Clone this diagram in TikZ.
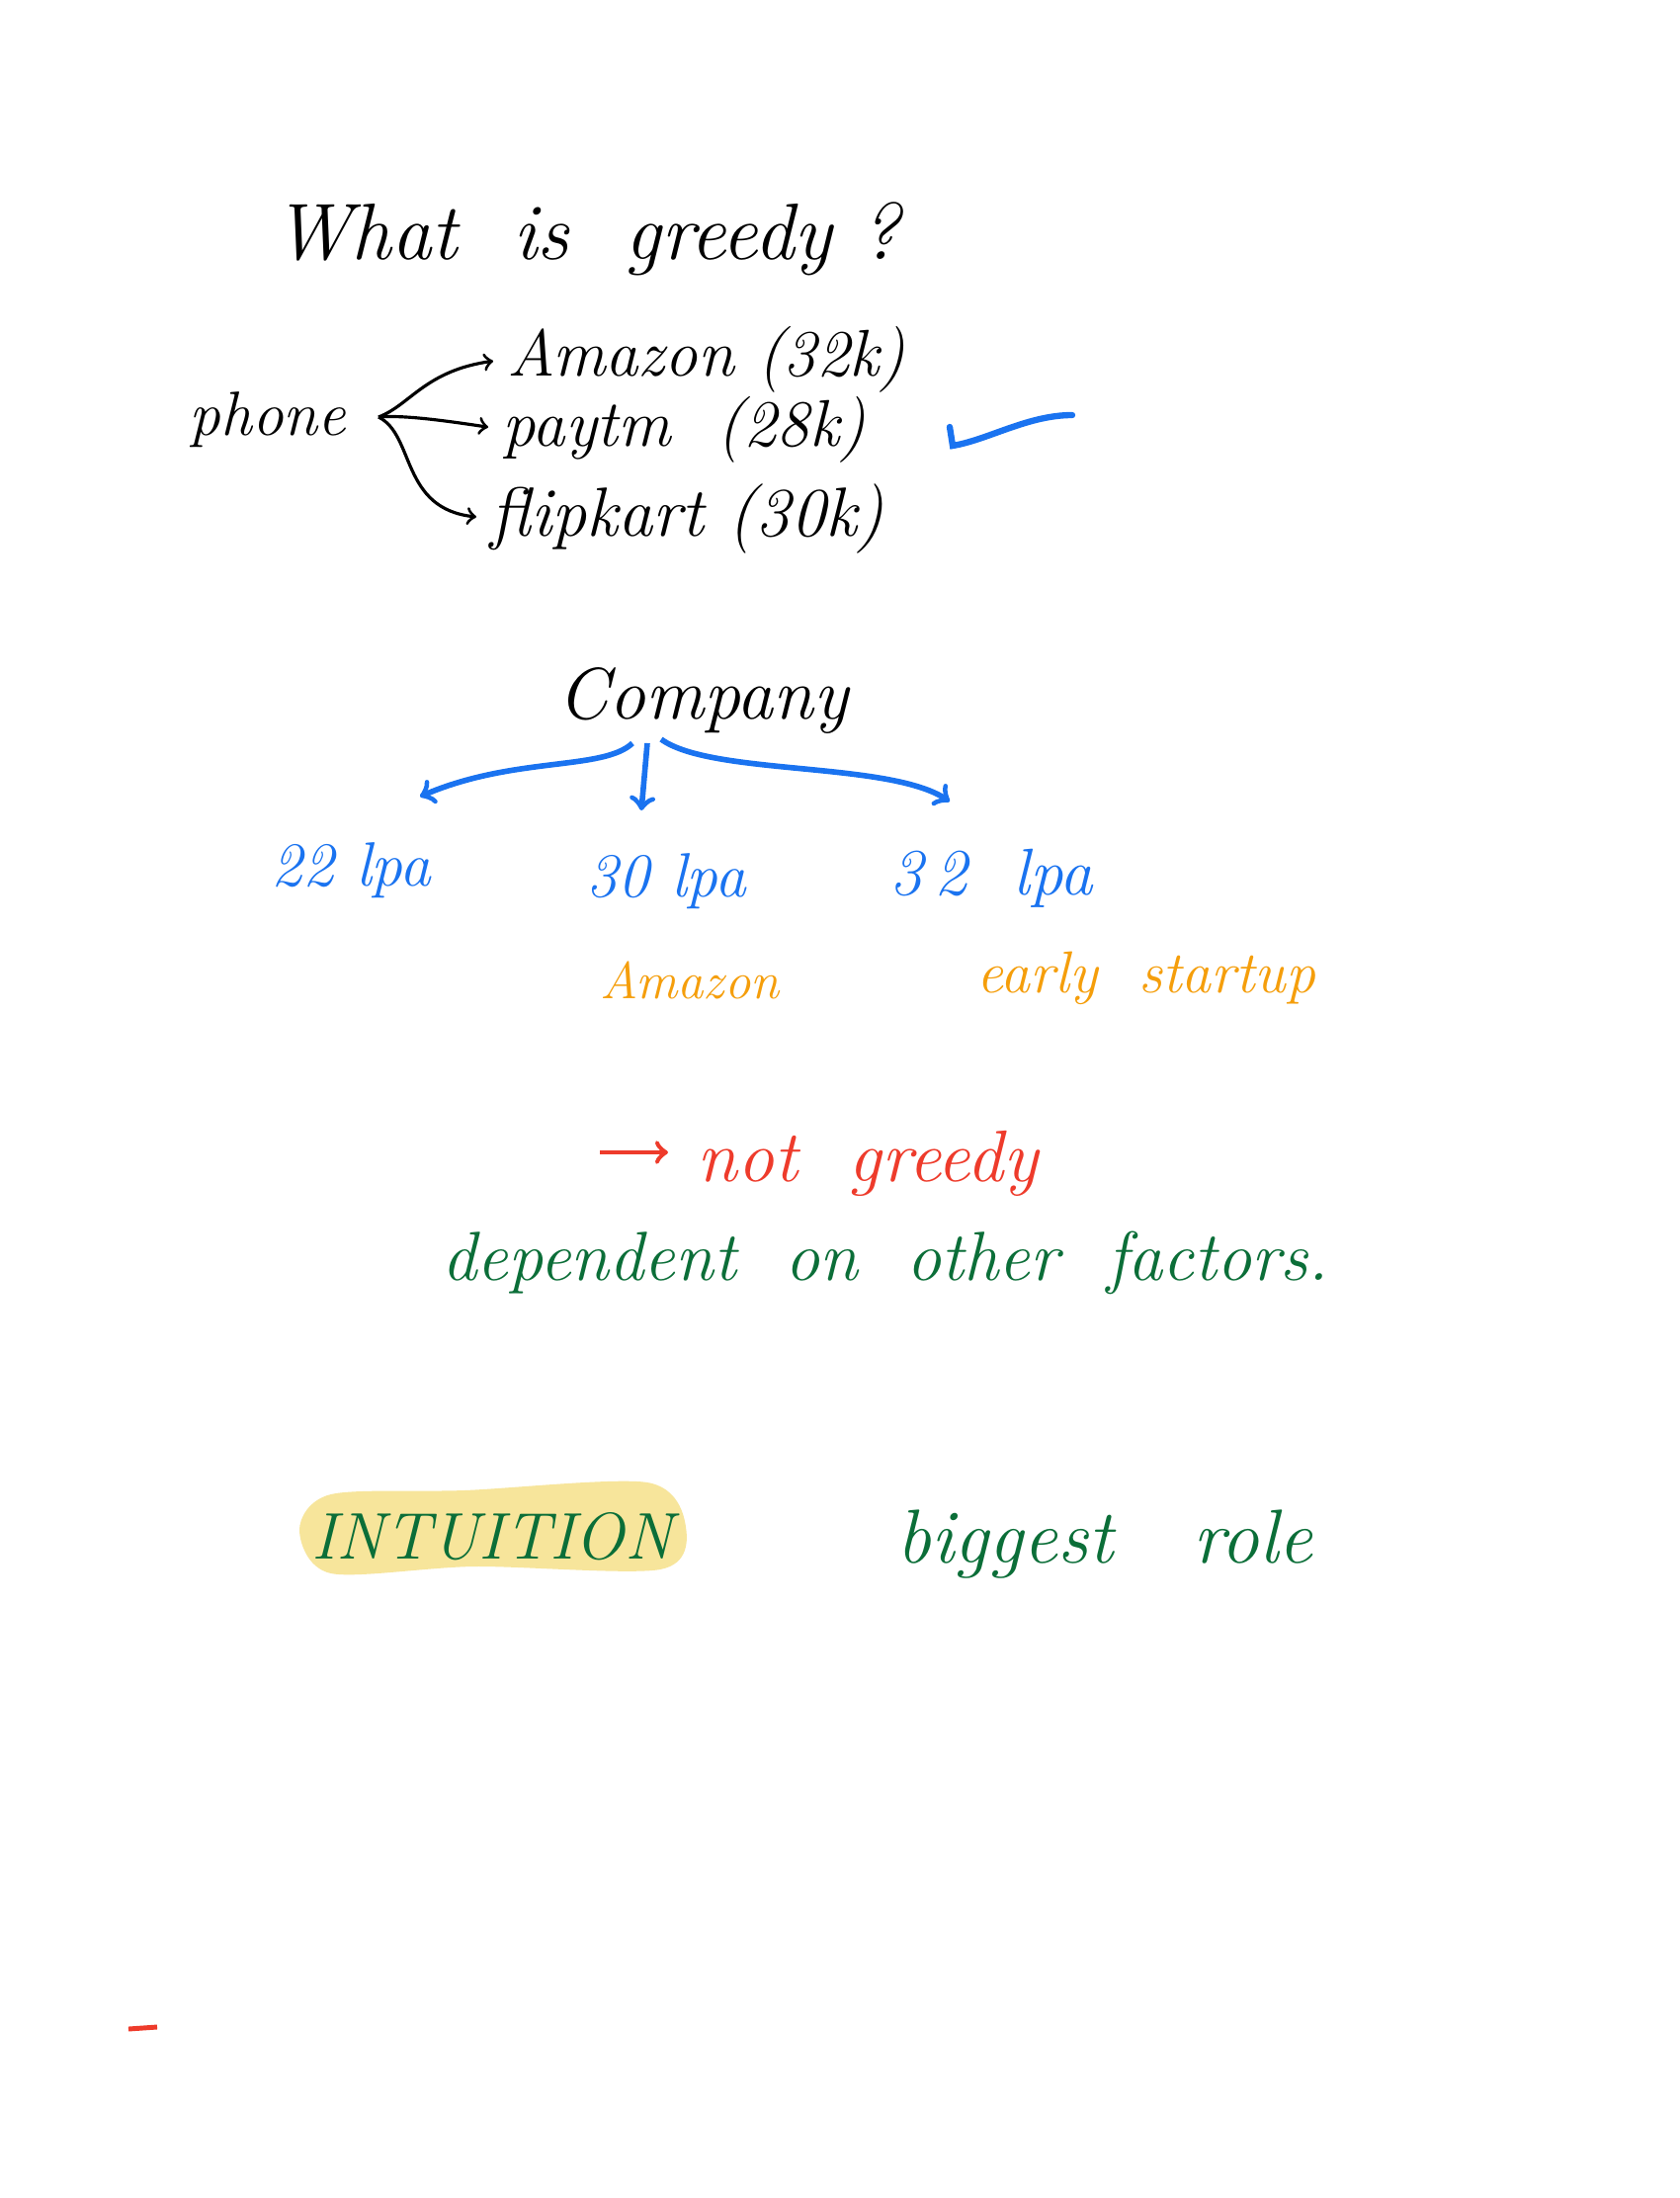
\documentclass[tikz,border=0pt]{standalone}
\usepackage{tikz}
\usetikzlibrary{arrows}
\usetikzlibrary{positioning}
\definecolor{penblue}{HTML}{1A73F0}
\definecolor{penorange}{HTML}{F59E0B}
\definecolor{penred}{HTML}{EE3B2B}
\definecolor{pengreen}{HTML}{0B6E38}
\definecolor{marker}{HTML}{F7E59B}
\tikzstyle{note} = [anchor=base west, inner sep=0pt, font=\itshape]
\tikzstyle{arrow} = [line width=0.9pt,->,>=to, shorten >=4pt]
\tikzstyle{bluearrow} = [penblue, line width=1.6pt,->,>=to]
\tikzstyle{redarrow} = [penred, line width=1.4pt,->,>=to]

\begin{document}
\begin{tikzpicture}[x=0.01cm, y=-0.01cm]
						\fill[white] (0,0) rectangle (1700,2224);
						\useasboundingbox (0,0) rectangle (1700,2224);
						\node (title) [note, font=\itshape\fontsize{23}{27}\selectfont] at (276,262) {What\ \ is\ \ greedy ?};
						\node (phone) [note, font=\itshape\fontsize{18}{22}\selectfont] at (191,440) {phone};
						\node (amazon) [note, font=\itshape\fontsize{19}{23}\selectfont] at (513,380) {Amazon (32k)};
						\node (paytm) [note, font=\itshape\fontsize{19}{23}\selectfont] at (508,451) {paytm\ \ (28k)};
						\node (flipkart) [note, font=\itshape\fontsize{20}{24}\selectfont] at (496,542) {flipkart (30k)};
						\coordinate (fork) at (383,422);
						\draw [arrow] (fork) .. controls (415,410) and (430,375) .. (amazon.west);
						\draw [arrow] (fork) .. controls (405,420) and (440,424) .. (paytm.west);
						\draw [arrow] (fork) .. controls (420,440) and (405,515) .. (flipkart.west);
						\draw [penblue, line width=1.8pt, line cap=round] (961,432) -- (964,451) .. controls (1000,445) and (1040,420) .. (1085,420);
						\node (company) [note, font=\itshape\fontsize{21}{25}\selectfont] at (564,727) {Company};
						\node (lpaA) [note, penblue, font=\itshape\fontsize{18}{22}\selectfont] at (274,896) {22 lpa};
						\node (lpaB) [note, penblue, font=\itshape\fontsize{18}{22}\selectfont] at (593,907) {30 lpa};
						\node (lpaC) [note, penblue, font=\itshape\fontsize{19}{23}\selectfont] at (900,905) {3\,2\ \ lpa};
						\node (amazonB) [note, penorange, font=\itshape\fontsize{15}{19}\selectfont] at (607,1010) {Amazon};
						\node (startup) [note, penorange, font=\itshape\fontsize{17}{21}\selectfont] at (988,1004) {early\ \ startup};
						\draw [bluearrow] (640,752) .. controls (610,780) and (520,765) .. (425,806);
						\draw [bluearrow] (655,752) -- (649,820);
						\draw [bluearrow] (669,748) .. controls (720,785) and (900,770) .. (961,811);
						\node (notgreedy) [note, penred, font=\itshape\fontsize{21}{25}\selectfont] at (705,1195) {not\ \ greedy};
						\coordinate (ngstart) at (607,1166);
						\draw [redarrow] (ngstart) -- (676,1166);
						\node (factors) [note, pengreen, font=\itshape\fontsize{20}{24}\selectfont] at (447,1295) {dependent\ \ on\ \ other\ \ factors.};
						\fill [marker] plot [smooth cycle] coordinates {(303,1548) (335,1512) (470,1508) (655,1500) (694,1545) (668,1588) (480,1585) (335,1592)};
						\node (intuition) [note, pengreen, font=\itshape\fontsize{19}{23}\selectfont] at (315,1577) {INTUITION};
						\node (role) [note, pengreen, font=\itshape\fontsize{22}{26}\selectfont] at (907,1581) {biggest\ \ \ role};
						\draw [penred, line width=1.4pt] (130,2053) -- (159,2051);
					\end{tikzpicture}
\end{document}
